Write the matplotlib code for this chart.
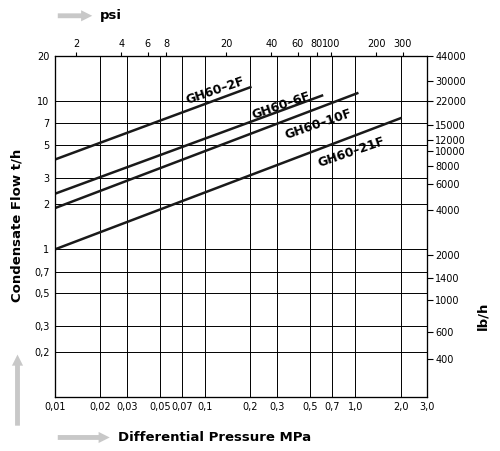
import matplotlib
matplotlib.use("Agg")
import matplotlib.pyplot as plt
import numpy as np

xticks = [0.01,0.02,0.03,0.05,0.07,0.1,0.2,0.3,0.5,0.7,1.0,2.0,3.0]
xlabels = ["0,01","0,02","0,03","0,05","0,07","0,1","0,2","0,3","0,5","0,7","1,0","2,0","3,0"]
yticks = [0.2,0.3,0.5,0.7,1,2,3,5,7,10,20]
ylabels = ["0,2","0,3","0,5","0,7","1","2","3","5","7","10","20"]
psi_ticks = [2,4,6,8,20,40,60,80,100,200,300]
lbh_ticks = [400,600,1000,1400,2000,4000,6000,8000,10000,12000,15000,22000,30000,44000]

series = {
    "GH60–2F":  ([0.01,0.2],[4.0,12.3]),
    "GH60–6F":  ([0.01,0.6],[2.35,10.8]),
    "GH60–10F": ([0.01,1.03],[1.88,11.2]),
    "GH60–21F": ([0.01,2.0],[0.99,7.6]),
}
label_pos = {"GH60–2F":(0.072,9.0),"GH60–6F":(0.2,7.2),"GH60–10F":(0.33,5.3),"GH60–21F":(0.55,3.4)}

fig = plt.figure(figsize=(5,4.51),dpi=100)
ax = fig.add_axes([0.11,0.12,0.744,0.756])
ax.set_xscale("log"); ax.set_yscale("log")
ax.set_xlim(0.01,3.0); ax.set_ylim(0.1,20)
for x in xticks: ax.axvline(x,color="black",lw=0.7)
for y in yticks: ax.axhline(y,color="black",lw=0.7)
ax.set_xticks(xticks); ax.set_xticklabels(xlabels,fontsize=7)
ax.set_yticks(yticks); ax.set_yticklabels(ylabels,fontsize=7)
ax.minorticks_off()
ax.tick_params(length=0,pad=4)
for name,(xs,ys) in series.items():
    ax.plot(xs,ys,color="#1a1a1a",lw=1.8)
    x,y = label_pos[name]
    ax.text(x,y,name,rotation=19,fontsize=9,fontweight="bold",ha="left",va="bottom")

ax2 = ax.twiny(); ax2.set_xscale("log"); ax2.set_xlim(0.01*145,3.0*145)
ax2.set_xticks(psi_ticks); ax2.set_xticklabels([str(t) for t in psi_ticks],fontsize=7)
ax2.minorticks_off(); ax2.tick_params(length=3,pad=2)
ax3 = ax.twinx(); ax3.set_yscale("log"); ax3.set_ylim(0.1*2204.6,20*2204.6)
ax3.set_yticks(lbh_ticks); ax3.set_yticklabels([str(t) for t in lbh_ticks],fontsize=7)
ax3.minorticks_off(); ax3.tick_params(length=4,pad=2)

fig.text(0.035,0.5,"Condensate Flow t/h",rotation=90,fontsize=9.5,fontweight="bold",va="center",ha="center")
fig.text(0.965,0.3,"lb/h",rotation=90,fontsize=9.5,fontweight="bold",va="center",ha="center")
fig.text(0.235,0.03,"Differential Pressure MPa",fontsize=9.5,fontweight="bold",va="center")
fig.text(0.2,0.965,"psi",fontsize=9.5,fontweight="bold",va="center")
ac = dict(arrowstyle="simple,head_width=0.8,head_length=0.8,tail_width=0.35",color="#c8c8c8",lw=0)
fig.add_artist(matplotlib.patches.FancyArrowPatch((0.11,0.965),(0.19,0.965),transform=fig.transFigure,mutation_scale=10,**ac))
fig.add_artist(matplotlib.patches.FancyArrowPatch((0.11,0.03),(0.225,0.03),transform=fig.transFigure,mutation_scale=10,**ac))
fig.add_artist(matplotlib.patches.FancyArrowPatch((0.035,0.05),(0.035,0.22),transform=fig.transFigure,mutation_scale=10,**ac))
fig.savefig("out.png")
